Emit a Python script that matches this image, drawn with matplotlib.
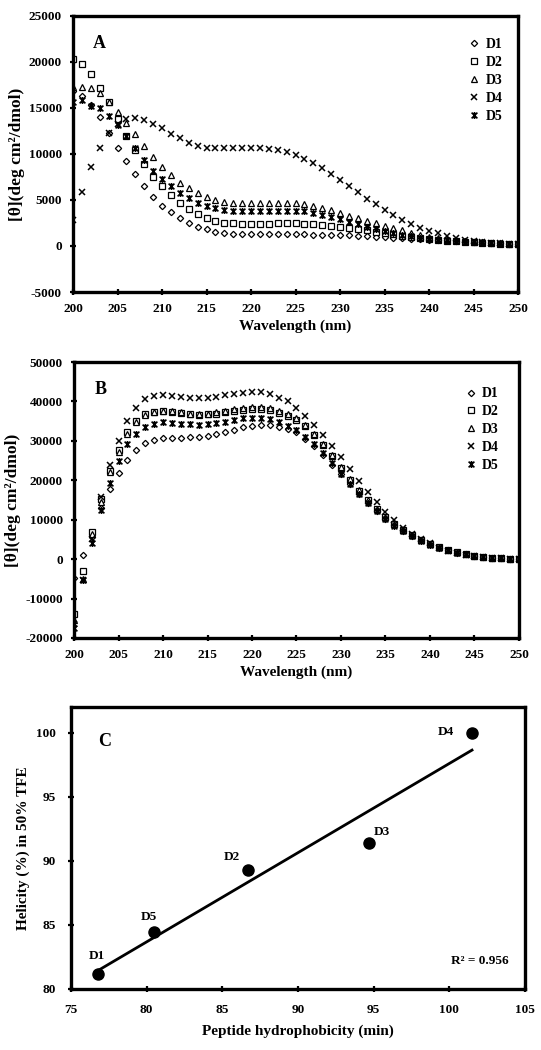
import numpy as np
import matplotlib
matplotlib.use("Agg")
import matplotlib.pyplot as plt
from matplotlib.path import Path

plt.rcParams['font.family'] = ['Liberation Serif', 'DejaVu Serif']
plt.rcParams['font.weight'] = 'bold'
plt.rcParams['axes.unicode_minus'] = False

# ---------------- data ----------------
wavelength = list(range(200, 251))
series_names = ["D1", "D2", "D3", "D4", "D5"]

# Panel A (aqueous)
A_D1 = [16800, 16300, 15300, 14000, 12300, 10700, 9200, 7800, 6500, 5300,
        4400, 3700, 3000, 2500, 2100, 1800, 1550, 1400, 1300, 1250,
        1250, 1250, 1250, 1250, 1250, 1250, 1250, 1200, 1200, 1200,
        1200, 1150, 1100, 1050, 1000, 950, 900, 850, 800, 750,
        700, 650, 600, 550, 500, 450, 400, 350, 300, 250, 200]
A_D2 = [20300, 19800, 18700, 17200, 15600, 13800, 12000, 10400, 8900, 7500,
        6500, 5500, 4700, 4000, 3450, 3050, 2750, 2550, 2450, 2400,
        2400, 2400, 2400, 2450, 2450, 2450, 2400, 2350, 2250, 2150,
        2050, 1950, 1850, 1700, 1550, 1400, 1250, 1100, 950, 850,
        750, 650, 550, 500, 450, 400, 350, 300, 250, 250, 200]
A_D3 = [17300, 17250, 17150, 16600, 15600, 14600, 13400, 12200, 10900, 9700,
        8600, 7700, 6900, 6300, 5750, 5300, 5000, 4800, 4700, 4700,
        4700, 4700, 4700, 4700, 4700, 4650, 4550, 4400, 4150, 3900,
        3600, 3300, 3000, 2700, 2450, 2200, 1950, 1700, 1450, 1200,
        1000, 850, 700, 600, 500, 450, 400, 350, 300, 250, 200]
A_D4 = [2800, 5900, 8600, 10700, 12300, 13300, 13800, 13900, 13700, 13300,
        12800, 12200, 11700, 11200, 10900, 10700, 10650, 10600, 10600, 10600,
        10600, 10600, 10550, 10450, 10200, 9900, 9500, 9000, 8450, 7850,
        7170, 6550, 5850, 5150, 4600, 3950, 3350, 2830, 2390, 1920,
        1650, 1380, 1050, 850, 700, 550, 450, 350, 300, 250, 200]
A_D5 = [15600, 15900, 15200, 15000, 14100, 13100, 12000, 10700, 9400, 8200,
        7300, 6500, 5800, 5200, 4700, 4400, 4150, 3950, 3800, 3750,
        3750, 3750, 3750, 3750, 3750, 3750, 3750, 3600, 3350, 3150,
        2900, 2600, 2350, 2100, 1850, 1600, 1400, 1200, 1050, 900,
        800, 700, 600, 500, 450, 400, 350, 300, 250, 250, 200]

# Panel B (50% TFE)
B_D1 = [-4800, 1000, 5500, 13000, 17800, 21900, 25200, 27600, 29400, 30300,
        30700, 30800, 30800, 30900, 31000, 31200, 31700, 32200, 32800, 33400,
        33900, 34100, 34000, 33600, 33000, 32300, 30600, 28600, 26300, 24000,
        21600, 19100, 16600, 14300, 12200, 10300, 8600, 7200, 5900, 4800,
        3800, 2900, 2200, 1600, 1200, 800, 500, 350, 200, 100, 50]
B_D2 = [-14000, -3000, 7000, 15200, 22300, 27800, 32200, 35000, 36800, 37400,
        37600, 37400, 37000, 36700, 36600, 36700, 36900, 37200, 37600, 37900,
        38100, 38100, 37800, 37100, 36200, 35300, 33700, 31500, 28900, 26100,
        23200, 20200, 17400, 14900, 12600, 10600, 8900, 7400, 6000, 4900,
        3900, 3000, 2300, 1700, 1200, 850, 550, 350, 200, 100, 50]
B_D3 = [-15500, -5000, 6500, 14500, 22000, 27300, 31800, 34800, 36600, 37300,
        37600, 37500, 37200, 36900, 36800, 36900, 37200, 37600, 38000, 38300,
        38600, 38600, 38300, 37600, 36700, 35700, 34000, 31800, 29200, 26300,
        23400, 20400, 17600, 15000, 12700, 10700, 8900, 7400, 6000, 4900,
        3900, 3000, 2300, 1700, 1200, 850, 550, 350, 200, 100, 50]
B_D4 = [-16500, -5300, 5000, 15800, 23800, 30000, 35000, 38400, 40500, 41500,
        41700, 41500, 41100, 40900, 40800, 40900, 41200, 41600, 41900, 42100,
        42300, 42300, 41800, 41000, 40000, 38300, 36400, 34100, 31500, 28700,
        25900, 22800, 19800, 17000, 14400, 11900, 9900, 8000, 6500, 5200,
        4000, 2900, 2100, 1500, 1100, 750, 500, 300, 200, 100, 50]
B_D5 = [-17500, -5300, 4000, 12500, 19400, 24900, 29200, 31800, 33600, 34400,
        34700, 34500, 34300, 34200, 34100, 34200, 34500, 34900, 35300, 35700,
        35900, 35900, 35500, 34800, 33900, 32800, 31100, 29100, 26800, 24300,
        21700, 19000, 16500, 14200, 12100, 10200, 8500, 7100, 5800, 4700,
        3700, 2900, 2200, 1600, 1200, 800, 500, 350, 200, 100, 50]

# Panel C
peptides = ["D1", "D5", "D2", "D3", "D4"]
hydrophobicity = [76.8, 80.5, 86.7, 94.7, 101.5]
helicity = [81.2, 84.45, 89.3, 91.4, 100.0]
r2_text = "R² = 0.956"

# ---------------- styles ----------------
star_path = Path([(-1, -1), (1, 1), (-1, 1), (1, -1), (0, -1.2), (0, 1.2)],
                 [Path.MOVETO, Path.LINETO, Path.MOVETO, Path.LINETO, Path.MOVETO, Path.LINETO])
marker_styles = {
    "D1": dict(marker='D', ms=3.2, mfc='white', mec='black', mew=0.9),
    "D2": dict(marker='s', ms=4.3, mfc='white', mec='black', mew=0.9),
    "D3": dict(marker='^', ms=4.6, mfc='white', mec='black', mew=0.9),
    "D4": dict(marker='x', ms=5.0, mfc='black', mec='black', mew=1.1),
    "D5": dict(marker=star_path, ms=5.0, mfc='black', mec='black', mew=1.2),
}

fig = plt.figure(figsize=(5.41, 10.5), dpi=100)

def style_axes(ax):
    for s in ax.spines.values():
        s.set_linewidth(2.4)
    ax.tick_params(direction='inout', length=4, width=1.6, labelsize=9.5, pad=6)
    for lab in ax.get_xticklabels() + ax.get_yticklabels():
        lab.set_fontweight('bold')

def cd_panel(rect, data, ylim, yticks, letter, leg_anchor):
    ax = fig.add_axes(rect)
    for name, vals in zip(series_names, data):
        ax.plot(wavelength, vals, linestyle='none', label=name, **marker_styles[name])
    ax.set_xlim(200, 250)
    ax.set_ylim(*ylim)
    ax.set_xticks(range(200, 251, 5))
    ax.set_yticks(yticks)
    ax.set_xlabel("Wavelength (nm)", fontsize=11, fontweight='bold', labelpad=3)
    ax.set_ylabel("[θ](deg cm²/dmol)", fontsize=12.5, fontweight='bold', labelpad=3)
    ax.text(0.06, 0.90, letter, transform=ax.transAxes, fontsize=13, fontweight='bold',
            ha='center', va='center')
    ax.legend(loc='upper left', bbox_to_anchor=leg_anchor, frameon=False,
              fontsize=10, handlelength=0.6, handletextpad=0.5, labelspacing=0.35,
              borderaxespad=0)
    style_axes(ax)
    return ax

axA = cd_panel([0.135, 0.7219, 0.8225, 0.2629], [A_D1, A_D2, A_D3, A_D4, A_D5],
               (-5000, 25000), range(-5000, 25001, 5000), "A", (0.88, 0.94))
axB = cd_panel([0.1368, 0.3924, 0.8225, 0.2628], [B_D1, B_D2, B_D3, B_D4, B_D5],
               (-20000, 50000), range(-20000, 50001, 10000), "B", (0.87, 0.928))

# Panel C
axC = fig.add_axes([0.1312, 0.0581, 0.8392, 0.2686])
coef = np.polyfit(hydrophobicity, helicity, 1)
xfit = np.array([min(hydrophobicity), max(hydrophobicity)])
axC.plot(xfit, np.polyval(coef, xfit), color='black', lw=2.0)
axC.plot(hydrophobicity, helicity, 'o', color='black', ms=8)
offsets = {"D1": (-1, 13), "D5": (-3.5, 10.5), "D2": (-11.5, 9.5), "D3": (9.5, 7.5), "D4": (-19, 0.5)}
for name, xv, yv in zip(peptides, hydrophobicity, helicity):
    axC.annotate(name, (xv, yv), xytext=offsets[name], textcoords='offset points',
                 ha='center', va='center', fontsize=9.5, fontweight='bold')
axC.text(0.90, 0.10, r2_text, transform=axC.transAxes, ha='center', va='center',
         fontsize=9.5, fontweight='bold')
axC.text(0.075, 0.876, "C", transform=axC.transAxes, ha='center', va='center',
         fontsize=13, fontweight='bold')
axC.set_xlim(75, 105)
axC.set_ylim(80, 102)
axC.set_xticks(range(75, 106, 5))
axC.set_yticks(range(80, 101, 5))
axC.set_xlabel("Peptide hydrophobicity (min)", fontsize=11, fontweight='bold', labelpad=6)
axC.set_ylabel("Helicity (%) in 50% TFE", fontsize=11, fontweight='bold', labelpad=4)
style_axes(axC)
axC.tick_params(pad=9)

fig.savefig("out.png", dpi=100)
